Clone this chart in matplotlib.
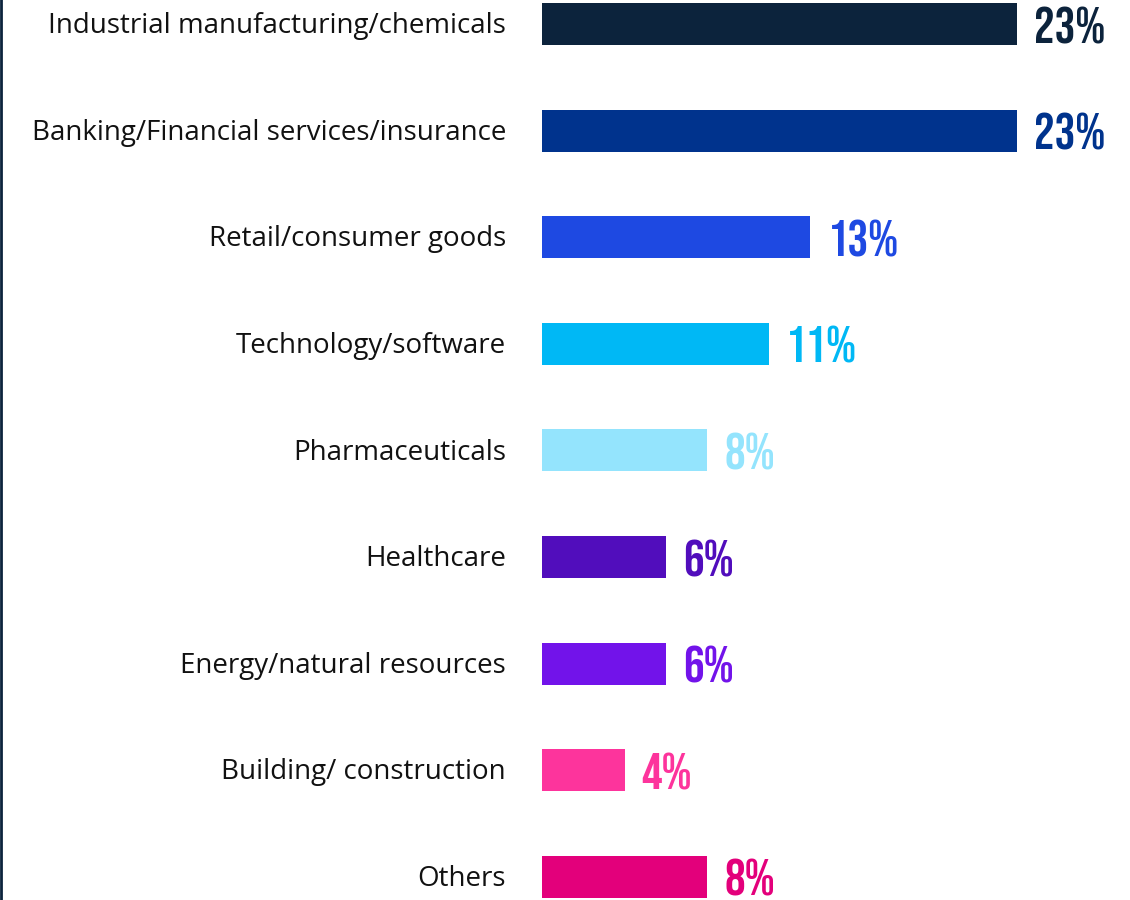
import matplotlib.pyplot as plt
from matplotlib import font_manager

industries = [
    "Industrial manufacturing/chemicals",
    "Banking/Financial services/insurance",
    "Retail/consumer goods",
    "Technology/software",
    "Pharmaceuticals",
    "Healthcare",
    "Energy/natural resources",
    "Building/ construction",
    "Others",
]
shares = [23, 23, 13, 11, 8, 6, 6, 4, 8]
bar_colors = [
    "#0c233c", "#00338d", "#1e49e2", "#00b8f5", "#94e4fd",
    "#510dbc", "#7213ea", "#fd349c", "#e3007b",
]


def first_installed(names):
    installed = {f.name for f in font_manager.fontManager.ttflist}
    for n in names:
        if n in installed:
            return n
    return "DejaVu Sans"


label_font = first_installed(["Open Sans", "Noto Sans", "Liberation Sans"])
value_font = first_installed(["Bebas Neue", "Anton", "Oswald", "Barlow Condensed"])

fig = plt.figure(figsize=(11.3, 9), dpi=100)
ax = fig.add_axes([542 / 1130, 0, 1 - 542 / 1130, 1])

y = list(range(len(industries)))
ax.barh(y, shares, height=0.394, color=bar_colors)
ax.set_xlim(0, 23 * (1130 - 542) / 475)
ax.set_ylim(8.218, -0.225)
ax.axis("off")

px = 23 / 475  # data units per pixel along x
for i, (name, val, col) in enumerate(zip(industries, shares, bar_colors)):
    ax.text(-36 * px, i + 0.02, name, ha="right", va="center",
            fontsize=20, family=[label_font, "DejaVu Sans"], color="#111111")
    ax.text(val + 17 * px, i + 0.01, f"{val}%", ha="left", va="center",
            fontsize=37, fontweight="bold", family=[value_font, "DejaVu Sans"],
            color=col)

# frame line down the left edge
fig.add_artist(plt.Line2D([0.001, 0.001], [0, 1], color="#0c233c", linewidth=2,
                          transform=fig.transFigure))

fig.savefig("out.png", dpi=100)
